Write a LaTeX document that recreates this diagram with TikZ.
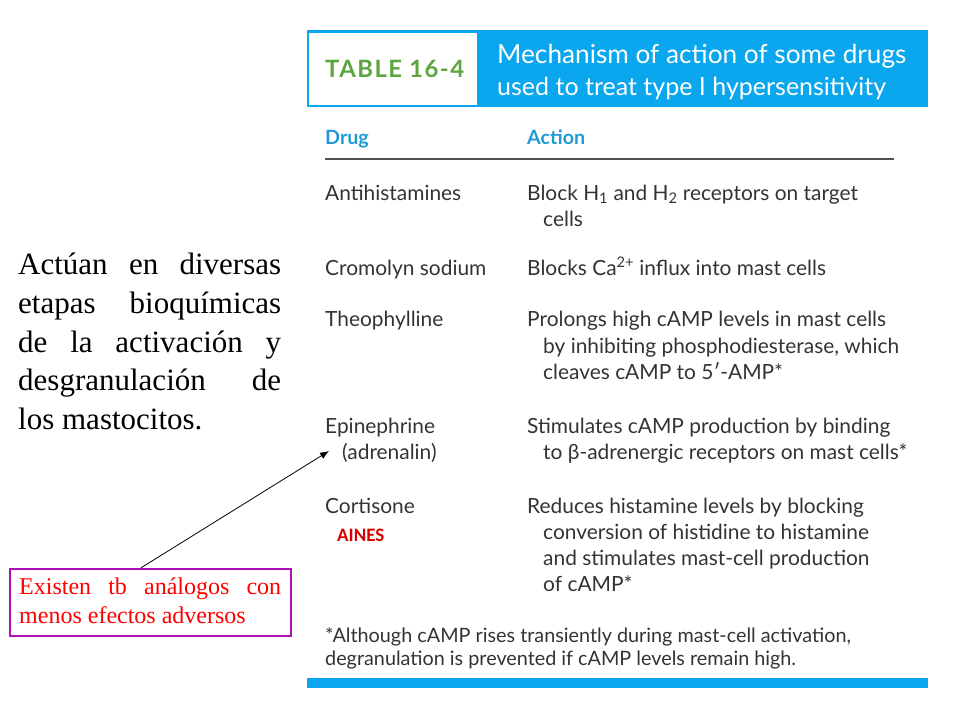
\documentclass[tikz,border=0pt]{standalone}
\usepackage{fontspec}
\setmainfont{Liberation Serif}
\newfontfamily\tablefont{Lato}
\newfontfamily\numfont[LetterSpace=6]{Lato}
\newfontfamily\ainesfont{Carlito}
\usetikzlibrary{positioning,arrows.meta}
\definecolor{bandblue}{HTML}{0AA6EE}
\definecolor{headblue}{HTML}{1F9AD6}
\definecolor{tablegreen}{HTML}{5DA53F}
\definecolor{tabletext}{HTML}{333333}
\definecolor{boxpurple}{HTML}{B00FB4}
\tikzset{
	celltext/.style={anchor=base west, inner sep=0pt, text=tabletext, font=\tablefont\fontsize{20.9}{20.9}\selectfont},
	headtext/.style={anchor=base west, inner sep=0pt, text=headblue, font=\tablefont\bfseries\fontsize{19.7}{19.7}\selectfont},
	titletext/.style={anchor=base west, inner sep=0pt, text=white, font=\tablefont\fontsize{26.2}{26.2}\selectfont},
	notetext/.style={anchor=base west, inner sep=0pt, text=tabletext, font=\tablefont\fontsize{19.8}{19.8}\selectfont}
}
\begin{document}
\begin{tikzpicture}[x=1pt, y=-1pt, >={Latex[length=9,width=7]}]
	\useasboundingbox (0,0) rectangle (960,720);

	%table head
	\node[fill=bandblue, minimum width=621, minimum height=77, inner sep=0pt, anchor=north west] (band) at (307,30) {};
	\node[fill=white, minimum width=168, minimum height=72, inner sep=0pt, anchor=north west] (tablebox) at (309,33) {};
	\node[anchor=base west, inner sep=0pt, text=tablegreen, font=\numfont\bfseries\fontsize{23.9}{23.9}\selectfont] (tablenum) at (325,77) {TABLE 16-4};
	\node[titletext] (title1) at (497,63) {Mechanism of action of some drugs};
	\node[titletext, font=\tablefont\fontsize{25}{25}\selectfont] (title2) at (497,95) {used to treat type I hypersensitivity};

	\node[headtext] (drug) at (325,144) {Drug};
	\node[headtext] (action) at (527,144) {Action};
	\coordinate (ruleleft) at (325,159);
	\coordinate (ruleright) at (894,159);
	\draw[line width=1.5, color=tabletext!85] (ruleleft) -- (ruleright);

	%rows
	\node[celltext] (d1) at (325,200) {Antihistamines};
	\node[celltext] (a1) at (527,200) {Block H\textsubscript{1} and H\textsubscript{2} receptors on target};
	\node[celltext] (a1b) at (543,226) {cells};

	\node[celltext] (d2) at (325,275) {Cromolyn sodium};
	\node[celltext] (a2) at (527,275) {Blocks Ca\textsuperscript{2+} influx into mast cells};

	\node[celltext] (d3) at (325,326) {Theophylline};
	\node[celltext] (a3) at (527,326) {Prolongs high cAMP levels in mast cells};
	\node[celltext] (a3b) at (543,353) {by inhibiting phosphodiesterase, which};
	\node[celltext] (a3c) at (543,379) {cleaves cAMP to 5′-AMP*};

	\node[celltext] (d4) at (325,433) {Epinephrine};
	\node[celltext] (d4b) at (342,459) {(adrenalin)};
	\node[celltext] (a4) at (527,433) {Stimulates cAMP production by binding};
	\node[celltext] (a4b) at (543,459) {to β-adrenergic receptors on mast cells*};

	\node[celltext] (d5) at (325,513) {Cortisone};
	\node[anchor=base west, inner sep=0pt, text=red!85!black, font=\ainesfont\bfseries\fontsize{19}{19}\selectfont] (aines) at (337,541) {AINES};
	\node[celltext] (a5) at (527,513) {Reduces histamine levels by blocking};
	\node[celltext] (a5b) at (543,539) {conversion of histidine to histamine};
	\node[celltext] (a5c) at (543,565) {and stimulates mast-cell production};
	\node[celltext] (a5d) at (543,591) {of cAMP*};

	\node[notetext] (note1) at (325,642) {*Although cAMP rises transiently during mast-cell activation,};
	\node[notetext] (note2) at (325,665) {degranulation is prevented if cAMP levels remain high.};
	\node[fill=bandblue, minimum width=621, minimum height=10, inner sep=0pt, anchor=north west] (bottombar) at (307,678) {};

	%left text
	\node[anchor=north west, inner sep=0pt, text width=263, align=justify, font=\fontsize{31}{38.9}\selectfont] (maintext) at (18,252.5) {Actúan en diversas\linebreak etapas bioquímicas\linebreak de la activación y\linebreak desgranulación de\linebreak los mastocitos.};

	%red box
	\node[draw=boxpurple, line width=2, minimum width=281.5, minimum height=67.5, inner sep=0pt, anchor=north west] (existbox) at (8.6,567.8) {};
	\node[anchor=west, inner sep=0pt, text=red, text width=262, align=justify, font=\fontsize{24}{29}\selectfont] (existtext) at (19,601) {Existen tb análogos con\linebreak menos efectos adversos};
	\coordinate (arrowend) at (329,451);
	\draw[->, black, line width=0.8] (existbox.105) -- (arrowend);
\end{tikzpicture}
\end{document}
